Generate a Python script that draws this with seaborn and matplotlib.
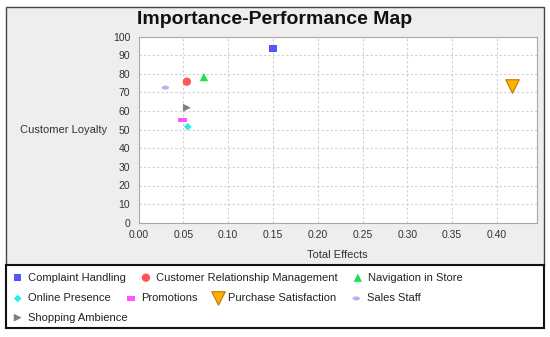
import numpy as np
import pandas as pd
import seaborn as sns
import matplotlib as mpl
import matplotlib.pyplot as plt
from matplotlib.markers import MarkerStyle
from matplotlib.transforms import Affine2D
from matplotlib.patches import Rectangle

sns.set_style('white')
plt.rcParams['font.family'] = ['Liberation Sans', 'DejaVu Sans']

# %%
# data
constructs = ["Complaint Handling", "Customer Relationship Management", "Navigation in Store",
              "Online Presence", "Promotions", "Purchase Satisfaction", "Sales Staff",
              "Shopping Ambience"]
total_effects = [0.150, 0.054, 0.073, 0.055, 0.049, 0.417, 0.030, 0.054]
loyalty = [93.7, 75.8, 78.3, 51.6, 55.2, 73.6, 72.6, 61.8]

x_ticks = [0.00, 0.05, 0.10, 0.15, 0.20, 0.25, 0.30, 0.35, 0.40]
y_ticks = [0, 10, 20, 30, 40, 50, 60, 70, 80, 90, 100]
legend_rows = [3, 4, 1]

# %%
colors = ["#5555ff", "#ff5555", "#22dd55", "#22eeee", "#ff55ff", "#ffb000", "#b4b4f0", "#808080"]
markers = ["s", "o", "^", "D",
           MarkerStyle("s", transform=Affine2D().scale(1, 0.5)),
           "v",
           MarkerStyle("o", transform=Affine2D().scale(1, 0.55)),
           ">"]
sizes = [28, 36, 36, 15, 36, 95, 28, 32]
edges = ["none"] * 5 + ["#c07800"] + ["none"] * 2

W, H = 550, 337
fig = plt.figure(figsize=(W / 100, H / 100), dpi=100)

def px_box(x0, y0, x1, y1):
    # pixel box (top-left origin) -> figure fraction [l, b, w, h]
    return [x0 / W, 1 - y1 / H, (x1 - x0) / W, (y1 - y0) / H]

l, b, w, h = px_box(5.5, 6.5, 544, 265)
fig.patches.append(Rectangle((l, b), w, h, transform=fig.transFigure, facecolor="#eeeeee",
                             edgecolor="#444444", lw=1, zorder=-1))

ax = fig.add_axes(px_box(138.5, 36.7, 536.7, 222.7))
ax.set_zorder(2)
df = pd.DataFrame({"construct": constructs, "x": total_effects, "y": loyalty})
for i, row in df.iterrows():
    sns.scatterplot(x=[row.x], y=[row.y], ax=ax, marker=markers[i], s=sizes[i],
                    color=colors[i], edgecolor=edges[i], linewidth=0.8 if edges[i] != "none" else 0,
                    label=row.construct, zorder=5)
handles, labels = ax.get_legend_handles_labels()
if ax.get_legend() is not None:
    ax.get_legend().remove()

ax.set_xlim(0, 0.4444)
ax.set_ylim(0, 100)
ax.set_xticks(x_ticks)
ax.set_xticklabels([f"{t:.2f}" for t in x_ticks])
ax.set_yticks(y_ticks)
ax.set_facecolor("white")
ax.grid(True, color="#d0d0d0", lw=0.8, linestyle=(0, (2, 2)))
for s in ax.spines.values():
    s.set_color("#a8a8a8")
    s.set_linewidth(0.8)
ax.tick_params(length=2, width=0.8, color="#a8a8a8", labelsize=7.5, labelcolor="#333333", pad=3)
ax.tick_params(axis="y", pad=4)

ax.set_xlabel("Total Effects", fontsize=8, color="#333333")
ax.xaxis.set_label_coords(0.5, -0.145)
ax.set_ylabel("Customer Loyalty", fontsize=8, color="#333333", rotation=0, ha="right", va="center")
ax.yaxis.set_label_coords(-0.078, 0.5)

fig.text(275 / W, 1 - 19.5 / H, "Importance-Performance Map", fontsize=14, fontweight="bold",
         ha="center", va="center", color="#111111")

# %%
# legend box below the chart, flow layout row by row
lax = fig.add_axes(px_box(6, 265, 544, 328))
lax.set_zorder(2)
lax.set_facecolor("white")
lax.set_xticks([])
lax.set_yticks([])
for s in lax.spines.values():
    s.set_color("#111111")
    s.set_linewidth(1.5)

row_y = [0.80, 0.47, 0.165]
start = 0
for k, (n, yy) in enumerate(zip(legend_rows, row_y)):
    leg = lax.legend(handles[start:start + n], labels[start:start + n], ncol=n, loc="center left",
                     bbox_to_anchor=(0.0135, yy), frameon=False, borderpad=0, borderaxespad=0,
                     handlelength=0.8, handletextpad=0.55, columnspacing=1.38, fontsize=8,
                     scatterpoints=1, labelcolor="#222222")
    if k < len(legend_rows) - 1:
        lax.add_artist(leg)
    start += n

fig.savefig("out.png", dpi=100)
